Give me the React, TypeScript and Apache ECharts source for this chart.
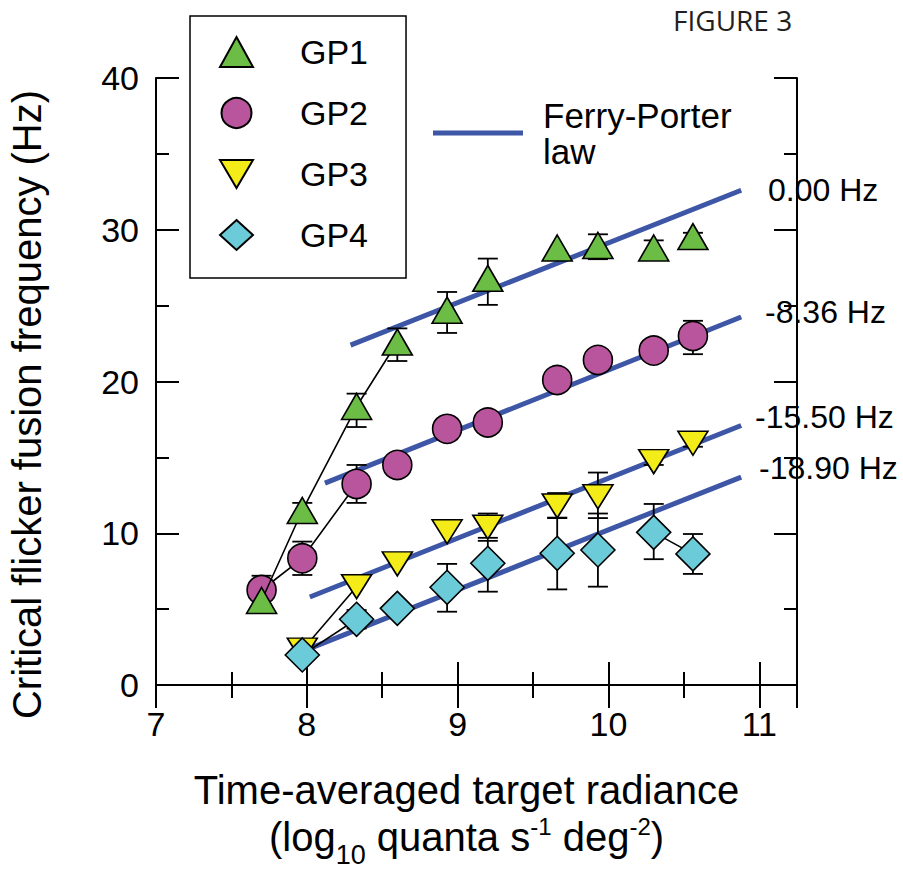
import React, { useEffect, useRef } from 'react';
import * as echarts from 'echarts';

const FONT = "'Liberation Sans', Arial, Helvetica, sans-serif";

// x positions (log10 quanta s-1 deg-2)
const X = [7.7, 7.97, 8.33, 8.6, 8.93, 9.2, 9.66, 9.93, 10.3, 10.56];
// CFF (Hz) per group; null = no point
const GP1 = [5.57, 11.5, 18.35, 22.6, 24.7, 26.8, 28.8, 28.96, 28.8, 29.55];
const GP2 = [6.26, 8.35, 13.25, 14.5, 16.88, 17.3, 20.1, 21.42, 22.04, 23.0];
const GP3 = [null, 2.3, 6.48, 7.98, 10.1, 10.4, 11.8, 12.4, 14.72, 15.93];
const GP4 = [null, 1.98, 4.33, 5.05, 6.44, 8.02, 8.68, 8.9, 10.06, 8.64];

// error bars: [x, low, high]
const GP1_ERR = [[7.97, 10.7, 12.0], [8.33, 17.0, 19.2], [8.6, 21.35, 23.5], [8.93, 23.2, 25.9], [9.2, 25.05, 28.1], [9.93, 28.06, 29.7], [10.3, 28.0, 29.3], [10.56, 29.2, 29.8]];
const GP2_ERR = [[7.7, 5.3, 7.2], [7.97, 7.25, 9.45], [8.33, 12.0, 14.5], [10.56, 21.8, 24.0]];
const GP3_ERR = [[9.2, 9.7, 11.3], [9.66, 11.0, 12.65], [9.93, 11.0, 14.0], [10.3, 14.5, 14.95], [10.56, 15.7, 16.15]];
const GP4_ERR = [[8.33, 3.72, 4.94], [8.93, 4.83, 7.98], [9.2, 6.15, 9.5], [9.66, 6.3, 11.03], [9.93, 6.48, 11.3], [10.3, 8.29, 11.93], [10.56, 7.32, 9.95]];

// index ranges of the thin connecting lines
const GP1_LINK = [[0, 3]];
const GP2_LINK = [[0, 2]];
const GP3_LINK = [[1, 2]];
const GP4_LINK = [[1, 2], [8, 9]];

// Ferry-Porter law fits
const FIT_X0 = [8.29, 8.12, 8.02, 8.0];
const FIT_Y0 = [22.4, 13.3, 5.8, 2.33];
const FIT_X1 = [10.88, 10.88, 10.88, 10.88];
const FIT_Y1 = [32.6, 24.25, 17.1, 13.7];
const FIT_LABELS = ['0.00 Hz', '-8.36 Hz', '-15.50 Hz', '-18.90 Hz'];

const X_TICKS_MAJOR = 1;
const X_TICKS_MINOR = 0.5;
const Y_TICKS_MAJOR = 10;
const Y_TICKS_MINOR = 5;

const COLORS = {
  GP1: '#6cbd45',
  GP2: '#b9559c',
  GP3: '#f3ec19',
  GP4: '#6ccbd9',
  fit: '#3e56a6',
};

const pts = (ys: (number | null)[]) =>
  X.map((x, i) => [x, ys[i]]).filter((p) => p[1] !== null);

export default function App() {
  const ref = useRef<HTMLDivElement>(null);

  useEffect(() => {
    const chart = echarts.init(ref.current!, null, { renderer: 'svg' });

    const axisLineStyle = { color: '#000', width: 2 };
    const mkX = (pos: string, interval: number, major: boolean, labels: boolean): any => ({
      type: 'value',
      min: 7,
      max: 11.25,
      interval,
      position: pos,
      axisLine: { show: major, lineStyle: axisLineStyle },
      axisTick: { show: true, inside: true, length: major ? 23 : 13, lineStyle: { color: '#000', width: 2 } },
      axisLabel: {
        show: labels,
        margin: 22,
        fontSize: 34,
        color: '#000',
        fontFamily: FONT,
        formatter: (v: number) => (Number.isInteger(v) ? String(v) : ''),
      },
      splitLine: { show: false },
    });
    const mkY = (pos: string, interval: number, major: boolean, labels: boolean): any => ({
      type: 'value',
      min: 0,
      max: 40,
      interval,
      position: pos,
      axisLine: { show: major, lineStyle: axisLineStyle },
      axisTick: { show: true, inside: true, length: major ? 23 : 13, lineStyle: { color: '#000', width: 2 } },
      axisLabel: { show: labels, margin: 17, fontSize: 34, color: '#000', fontFamily: FONT },
      splitLine: { show: false },
    });

    const xMain = mkX('bottom', X_TICKS_MAJOR, true, true);
    xMain.name =
      'Time-averaged target radiance\n{b|(log}{sub|10}{b| quanta s}{sup|-1}{b| deg}{sup|-2}{b|)}';
    xMain.nameLocation = 'middle';
    xMain.nameGap = 89;
    xMain.nameTextStyle = {
      fontSize: 40,
      lineHeight: 32,
      color: '#000',
      fontFamily: FONT,
      padding: [0, 20, 0, 0],
      rich: {
        b: { fontSize: 40, lineHeight: 62, fontFamily: FONT, color: '#000' },
        sub: { fontSize: 27, lineHeight: 32, verticalAlign: 'bottom', fontFamily: FONT, color: '#000' },
        sup: { fontSize: 24, lineHeight: 32, verticalAlign: 'top', padding: [8, 0, 0, 0], fontFamily: FONT, color: '#000' },
      },
    };

    const yMain = mkY('left', Y_TICKS_MAJOR, true, true);
    yMain.name = 'Critical flicker fusion frequency (Hz)';
    yMain.nameLocation = 'middle';
    yMain.nameGap = 106;
    yMain.nameTextStyle = {
      fontSize: 40,
      lineHeight: 46,
      color: '#000',
      fontFamily: FONT,
      padding: [0, 46, 0, 0],
    };

    const errSeries = (name: string, data: number[][], z: number): any => ({
      type: 'custom',
      name,
      data,
      z,
      silent: true,
      encode: { x: 0, y: [1, 2] },
      renderItem: (params: any, api: any) => {
        const x = api.value(0);
        const p1 = api.coord([x, api.value(1)]);
        const p2 = api.coord([x, api.value(2)]);
        const hw = 10;
        const style = { stroke: '#000', lineWidth: 1.8 };
        return {
          type: 'group',
          children: [
            { type: 'line', shape: { x1: p1[0], y1: p1[1], x2: p2[0], y2: p2[1] }, style },
            { type: 'line', shape: { x1: p1[0] - hw, y1: p1[1], x2: p1[0] + hw, y2: p1[1] }, style },
            { type: 'line', shape: { x1: p2[0] - hw, y1: p2[1], x2: p2[0] + hw, y2: p2[1] }, style },
          ],
        };
      },
    });

    const linkSeries = (name: string, ys: (number | null)[], ranges: number[][], z: number): any[] =>
      ranges.map(([a, b]) => ({
        type: 'line',
        name,
        data: X.slice(a, b + 1).map((x, i) => [x, ys[a + i]]),
        symbol: 'none',
        silent: true,
        z,
        lineStyle: { color: '#000', width: 1.6 },
      }));

    const fitSeries = FIT_X0.map((x0, i) => ({
      type: 'line',
      name: 'Ferry-Porter law',
      data: [
        [x0, FIT_Y0[i]],
        [FIT_X1[i], FIT_Y1[i]],
      ],
      symbol: 'none',
      silent: true,
      z: 2,
      color: COLORS.fit,
      lineStyle: { color: COLORS.fit, width: 5 },
    }));

    const scatter = (name: string, ys: (number | null)[], symbol: string, size: any, color: string, z: number): any => ({
      type: 'scatter',
      name,
      data: pts(ys),
      symbol,
      symbolSize: size,
      z,
      itemStyle: { color, borderColor: '#000', borderWidth: 1.6, opacity: 1 },
    });

    const INV_TRI = 'path://M0,0 L10,0 L5,8.5 Z';

    const labelPos = [
      [768, 190],
      [765, 312],
      [755, 417],
      [759, 468],
    ];

    const option: any = {
      animation: false,
      backgroundColor: '#fff',
      grid: { left: 156, right: 106, top: 78, bottom: 184, containLabel: false, outerBoundsMode: 'none' },
      xAxis: [
        xMain,
        mkX('bottom', X_TICKS_MINOR, false, false),
        mkX('top', X_TICKS_MAJOR, true, false),
        mkX('top', X_TICKS_MINOR, false, false),
      ],
      yAxis: [
        yMain,
        mkY('left', Y_TICKS_MINOR, false, false),
        mkY('right', Y_TICKS_MAJOR, true, false),
        mkY('right', Y_TICKS_MINOR, false, false),
      ],
      legend: [
        {
          data: ['GP1', 'GP2', 'GP3', 'GP4'],
          orient: 'vertical',
          left: 190,
          top: 16,
          padding: [19, 38, 26, 29],
          itemGap: 27,
          itemWidth: 33,
          itemHeight: 30,
          backgroundColor: '#fff',
          borderColor: '#000',
          borderWidth: 1.5,
          borderRadius: 0,
          selectedMode: false,
          z: 20,
          textStyle: { fontSize: 34, lineHeight: 34, color: '#000', fontFamily: FONT, padding: [0, 0, 0, 42] },
        },
        {
          data: [{ name: 'Ferry-Porter law', icon: 'rect' }],
          orient: 'vertical',
          left: 433,
          top: 79,
          padding: 0,
          itemWidth: 90,
          itemHeight: 5,
          selectedMode: false,
          z: 20,
          itemStyle: { color: COLORS.fit, borderWidth: 0 },
          formatter: () => 'Ferry-Porter\nlaw',
          textStyle: { fontSize: 35, lineHeight: 36, color: '#000', fontFamily: FONT, padding: [36, 0, 0, 15] },
        },
      ],
      graphic: [
        {
          type: 'text',
          left: 673,
          top: 6,
          style: { text: 'FIGURE 3', fontSize: 28, fontFamily: "'Open Sans', sans-serif", fill: '#231f20' },
        },
        ...FIT_LABELS.map((t, i) => ({
          type: 'text',
          x: labelPos[i][0],
          y: labelPos[i][1],
          style: { text: t, fontSize: 32, fontFamily: FONT, fill: '#000', verticalAlign: 'middle', align: 'left' },
        })),
      ],
      series: [
        ...fitSeries,
        // GP2 group
        ...linkSeries('GP2 link', GP2, GP2_LINK, 3),
        errSeries('GP2 error', GP2_ERR, 3),
        scatter('GP2', GP2, 'circle', 29, COLORS.GP2, 4),
        // GP1 group
        ...linkSeries('GP1 link', GP1, GP1_LINK, 5),
        errSeries('GP1 error', GP1_ERR, 5),
        scatter('GP1', GP1, 'triangle', [30, 26], COLORS.GP1, 6),
        // GP3 group
        ...linkSeries('GP3 link', GP3, GP3_LINK, 7),
        errSeries('GP3 error', GP3_ERR, 7),
        scatter('GP3', GP3, INV_TRI, [30, 24], COLORS.GP3, 8),
        // GP4 group
        ...linkSeries('GP4 link', GP4, GP4_LINK, 9),
        errSeries('GP4 error', GP4_ERR, 9),
        scatter('GP4', GP4, 'diamond', [34, 34], COLORS.GP4, 10),
      ],
    };

    chart.setOption(option);
    return () => chart.dispose();
  }, []);

  return (
    <div
      ref={ref}
      style={{ position: 'absolute', left: 0, top: 0, width: 903, height: 869, background: '#fff' }}
    />
  );
}
